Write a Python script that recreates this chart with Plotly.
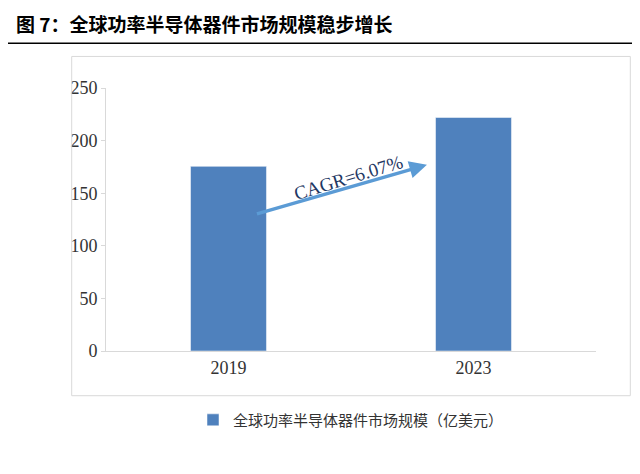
import plotly.graph_objects as go

years = ["2019", "2023"]
market = [175.5, 222]
series_name = "全球功率半导体器件市场规模（亿美元）"
title = "图 7：全球功率半导体器件市场规模稳步增长"
cagr_label = "CAGR=6.07%"

fig = go.Figure()
fig.add_trace(go.Bar(x=years, y=market, name=series_name, marker_color="#4F81BD", width=0.31))

# CAGR arrow
fig.add_annotation(x=0.81, y=177, ax=0.11, ay=130, xref="x", yref="y", axref="x", ayref="y",
                   showarrow=True, arrowhead=2, arrowsize=1, arrowwidth=3.5, arrowcolor="#5B9BD5", text="")
fig.add_annotation(x=0.49, y=165, xref="x", yref="y", text=cagr_label, showarrow=False, textangle=-17,
                   font=dict(family="Liberation Serif", size=19, color="#1F3864"))

fig.add_annotation(x=0, y=1, xref="paper", yref="paper", xanchor="left", yanchor="top",
                   xshift=-92, yshift=80, text="<b>" + title + "</b>", showarrow=False,
                   font=dict(family="Noto Sans CJK SC", size=19, color="black"))
fig.add_shape(type="line", xref="paper", yref="paper", x0=-0.2, x1=1.12, y0=1.17, y1=1.17,
              line=dict(color="black", width=1.5))
fig.add_shape(type="rect", xref="paper", yref="paper", x0=-0.07, x1=1.07, y0=-0.17, y1=1.12,
              line=dict(color="#D9D9D9", width=1))

fig.update_layout(
    width=640, height=474, template="plotly_white",
    margin=dict(l=98, r=52, t=80, b=131),
    font=dict(family="Liberation Serif", size=18, color="#333"),
    showlegend=True,
    legend=dict(orientation="h", x=0.5, xanchor="center", y=-0.2, yanchor="top",
                font=dict(family="Noto Sans CJK SC", size=15, color="#333")),
    bargap=0.5,
)
fig.update_xaxes(range=[-0.5, 1.5], showline=True, linecolor="#D9D9D9", ticks="", showgrid=False)
fig.update_yaxes(range=[0, 250], dtick=50, showgrid=False, showline=True, linecolor="#D9D9D9",
                 ticks="outside", ticklen=4, tickcolor="#D9D9D9", zeroline=False)
fig.write_html("out.html")
